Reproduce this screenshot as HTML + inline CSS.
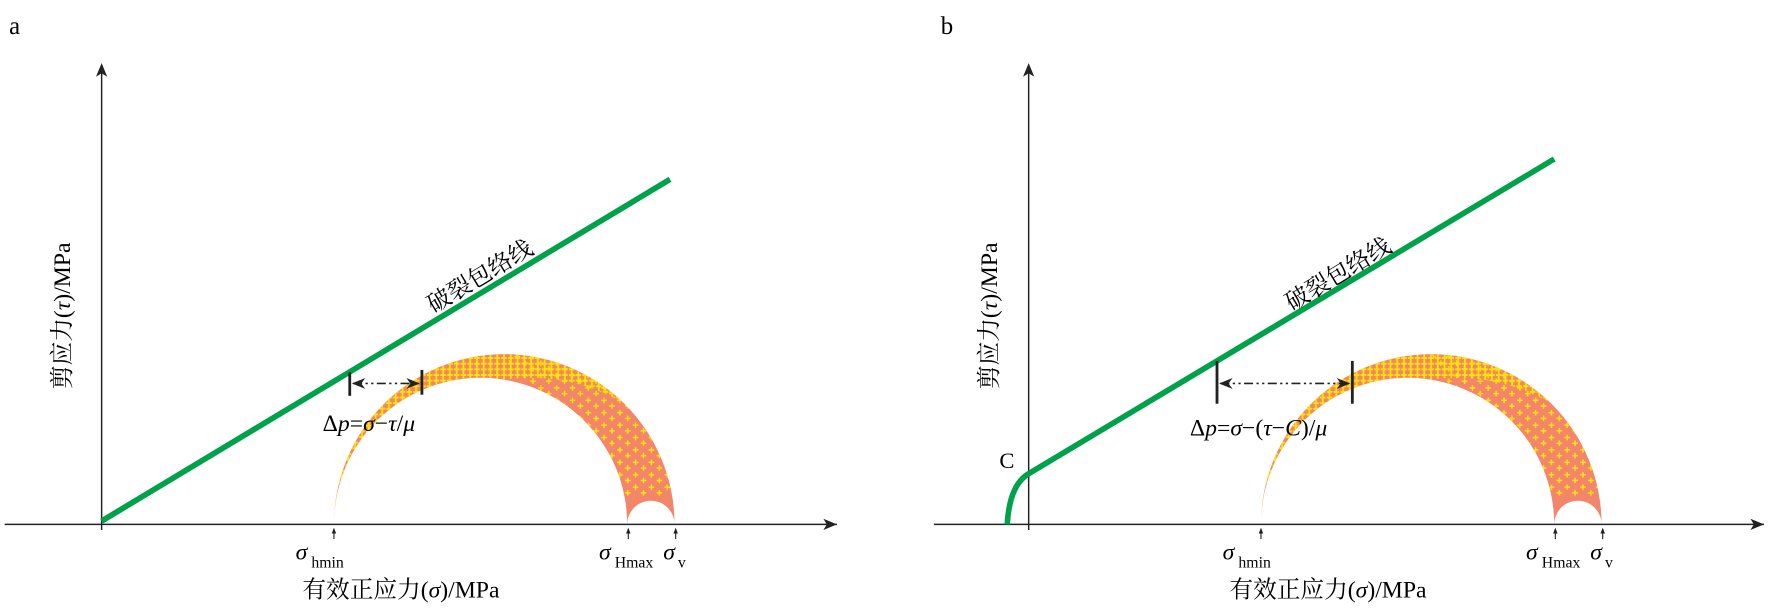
<!DOCTYPE html>
<html><head><meta charset="utf-8"><style>html,body{margin:0;padding:0;background:#fff}svg{display:block}</style></head>
<body>
<svg width="1772" height="609" viewBox="0 0 1571 540" xmlns="http://www.w3.org/2000/svg" font-family="'Liberation Serif','Noto Serif CJK SC',serif">
<defs>
<marker id="ah" viewBox="0 0 10 10" refX="9" refY="5" markerWidth="8" markerHeight="8" orient="auto-start-reverse"><path d="M0,1 L10,5 L0,9 L3,5Z" fill="#222"/></marker>
<pattern id="pl" width="6" height="5" patternUnits="userSpaceOnUse">
<path d="M0.3,2.5h5M2.8,0v5" stroke="#ffe600" stroke-width="1.6"/>
</pattern>
<pattern id="pl2" width="14" height="11" patternUnits="userSpaceOnUse">
<path d="M1,3h5M3.5,0.5v5M8,8h5M10.5,5.5v5" stroke="#ffe600" stroke-width="1.3"/>
</pattern>
<clipPath id="bandA"><path clip-rule="evenodd" d="M296,465 A151,151 0 0 1 598,465 Z M296,465 A130,130 0 0 1 556,465 Z M556,465 A21,21 0 0 1 598,465 Z"/></clipPath>
<clipPath id="bandB"><path clip-rule="evenodd" d="M1118,465 A151,151 0 0 1 1420,465 Z M1118,465 A130,130 0 0 1 1378,465 Z M1378,465 A21,21 0 0 1 1420,465 Z"/></clipPath>
</defs>
<g>
<text x="8" y="30" font-size="22">a</text>
<path d="M296,465 A151,151 0 0 1 598,465 Z M296,465 A130,130 0 0 1 556,465 Z M556,465 A21,21 0 0 1 598,465 Z" fill="#f2856a" fill-rule="evenodd"/>
<g clip-path="url(#bandA)">
<path fill-rule="evenodd" fill="url(#pl2)" d="M447,314 L600,314 600,440 520,440Z"/>
<path fill-rule="evenodd" fill="url(#pl)" d="M290,300 L620,300 620,500 290,500Z M305,500 A165,165 0 0 1 635,500 Z"/>
</g>
<line x1="4" y1="465" x2="742" y2="465" stroke="#222" stroke-width="1.3"/>
<path d="M742,465 l-12,-5 3,5 -3,5z" fill="#222"/>
<line x1="90" y1="470" x2="90" y2="62" stroke="#222" stroke-width="1.3"/>
<path d="M90,56 l-5,12 5,-3 5,3z" fill="#222"/>
<line x1="90" y1="462" x2="594" y2="159" stroke="#00a14b" stroke-width="5"/>
<text transform="translate(384,278) rotate(-31)" font-size="21">破裂包络线</text>
<text transform="translate(62,345) rotate(-90)" font-size="21">剪应力(<tspan font-style="italic">τ</tspan>)/MPa</text>
<text x="268" y="530" font-size="21">有效正应力(<tspan font-style="italic">σ</tspan>)/MPa</text>
<g stroke="#222" stroke-width="2.5"><line x1="310" y1="330" x2="310" y2="351"/><line x1="374" y1="328" x2="374" y2="350"/></g>
<line x1="313" y1="340" x2="371" y2="340" stroke="#222" stroke-width="1.5" stroke-dasharray="8,3,2,3,2,3" marker-start="url(#ah)" marker-end="url(#ah)"/>
<text x="286" y="382" font-size="21">Δ<tspan font-style="italic">p</tspan>=<tspan font-style="italic">σ</tspan>−<tspan font-style="italic">τ</tspan>/<tspan font-style="italic">μ</tspan></text>
<g font-size="21"><text x="262" y="496" font-style="italic">σ</text><text x="276" y="503" font-size="14">hmin</text>
<text x="531" y="496" font-style="italic">σ</text><text x="545" y="503" font-size="14">Hmax</text>
<text x="588" y="496" font-style="italic">σ</text><text x="601" y="503" font-size="14">v</text></g>
<g stroke="#222" stroke-width="1"><line x1="296" y1="469" x2="296" y2="478"/><line x1="557" y1="469" x2="557" y2="478"/><line x1="599" y1="469" x2="599" y2="478"/></g>
<g fill="#222"><path d="M296,468 l-2,5 4,0z"/><path d="M557,468 l-2,5 4,0z"/><path d="M599,468 l-2,5 4,0z"/></g>
</g>
<g>
<text x="834" y="30" font-size="22">b</text>
<path d="M1118,465 A151,151 0 0 1 1420,465 Z M1118,465 A130,130 0 0 1 1378,465 Z M1378,465 A21,21 0 0 1 1420,465 Z" fill="#f2856a" fill-rule="evenodd"/>
<g clip-path="url(#bandB)">
<path fill-rule="evenodd" fill="url(#pl2)" d="M1269,314 L1422,314 1422,440 1342,440Z"/>
<path fill-rule="evenodd" fill="url(#pl)" d="M1112,300 L1442,300 1442,500 1112,500Z M1127,500 A165,165 0 0 1 1457,500 Z"/>
</g>
<line x1="828" y1="465" x2="1564" y2="465" stroke="#222" stroke-width="1.3"/>
<path d="M1564,465 l-12,-5 3,5 -3,5z" fill="#222"/>
<line x1="912" y1="470" x2="912" y2="62" stroke="#222" stroke-width="1.3"/>
<path d="M912,56 l-5,12 5,-3 5,3z" fill="#222"/>
<path d="M893,465 Q895,430 912,420 L1378,141" stroke="#00a14b" stroke-width="5" fill="none"/>
<text x="886" y="415" font-size="20">C</text>
<text transform="translate(1145,276) rotate(-31)" font-size="21">破裂包络线</text>
<text transform="translate(884,345) rotate(-90)" font-size="21">剪应力(<tspan font-style="italic">τ</tspan>)/MPa</text>
<text x="1090" y="530" font-size="21">有效正应力(<tspan font-style="italic">σ</tspan>)/MPa</text>
<g stroke="#222" stroke-width="2.5"><line x1="1079" y1="320" x2="1079" y2="358"/><line x1="1199" y1="320" x2="1199" y2="358"/></g>
<line x1="1082" y1="340" x2="1196" y2="340" stroke="#222" stroke-width="1.5" stroke-dasharray="8,3,2,3,2,3" marker-start="url(#ah)" marker-end="url(#ah)"/>
<text x="1055" y="386" font-size="21">Δ<tspan font-style="italic">p</tspan>=<tspan font-style="italic">σ</tspan>−(<tspan font-style="italic">τ</tspan>−<tspan font-style="italic">C</tspan>)/<tspan font-style="italic">μ</tspan></text>
<g font-size="21"><text x="1084" y="496" font-style="italic">σ</text><text x="1098" y="503" font-size="14">hmin</text>
<text x="1353" y="496" font-style="italic">σ</text><text x="1367" y="503" font-size="14">Hmax</text>
<text x="1410" y="496" font-style="italic">σ</text><text x="1423" y="503" font-size="14">v</text></g>
<g stroke="#222" stroke-width="1"><line x1="1118" y1="469" x2="1118" y2="478"/><line x1="1379" y1="469" x2="1379" y2="478"/><line x1="1421" y1="469" x2="1421" y2="478"/></g>
<g fill="#222"><path d="M1118,468 l-2,5 4,0z"/><path d="M1379,468 l-2,5 4,0z"/><path d="M1421,468 l-2,5 4,0z"/></g>
</g>
</svg>
</body></html>
